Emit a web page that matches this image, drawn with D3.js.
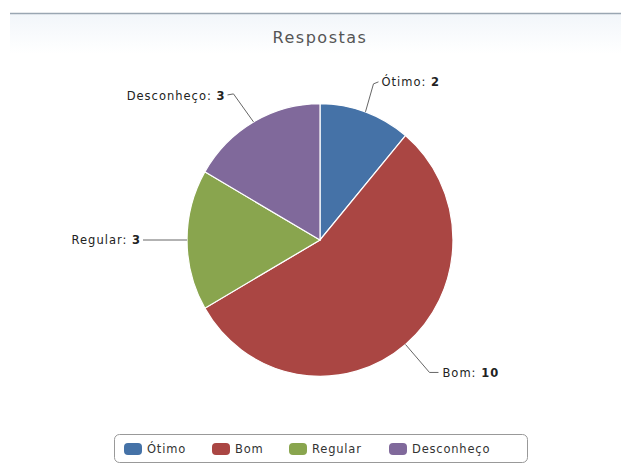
<!DOCTYPE html>
<html><head><meta charset="utf-8">
<script src="https://cdn.jsdelivr.net/npm/d3@7"></script>
<style>body{margin:0;background:#fff}svg{display:block;font-family:"DejaVu Sans",sans-serif}</style>
</head><body><svg id="c" width="621" height="475"></svg>
<script>
const categories = ["Ótimo", "Bom", "Regular", "Desconheço"];
const values = [2, 10, 3, 3];
const colors = ["#4572A7", "#AA4643", "#89A54E", "#80699B"];
const title = "Respostas";

const svg = d3.select("#c");
const cx = 320, cy = 240, r = 135;

const bg = svg.append("defs").append("linearGradient").attr("id","bg").attr("x1",0).attr("y1",0).attr("x2",0).attr("y2",1);
bg.append("stop").attr("offset","0").attr("stop-color","#f2f6fa");
bg.append("stop").attr("offset","1").attr("stop-color","#ffffff");
svg.append("rect").attr("x",10).attr("y",14).attr("width",611).attr("height",40).attr("fill","url(#bg)");
svg.append("line").attr("x1",10).attr("x2",621).attr("y1",13.5).attr("y2",13.5).attr("stroke","#9aa6b2").attr("stroke-width",1.5);

svg.append("text").attr("x",320).attr("y",43).attr("text-anchor","middle")
  .attr("font-size",16).attr("letter-spacing",1.5).attr("fill","#555").text(title);

const pie = d3.pie().sort(null).value(d => d)(values);
const arc = d3.arc().innerRadius(0).outerRadius(r);
const g = svg.append("g").attr("transform",`translate(${cx},${cy}) scale(0.985,1.01)`);
g.selectAll("path").data(pie).join("path")
  .attr("d", arc).attr("fill",(d,i)=>colors[i]).attr("stroke","#fff").attr("stroke-width",1.2);

const labelDefs = [
  {anchor:"start", pts:[[0,0],[8,-28],[13,-30]], tx:16, ty:-26},
  {anchor:"start", pts:[[0,0],[24,28],[33,28]], tx:37, ty:33},
  {anchor:"end", pts:[[0,0],[-44,0]], tx:-46, ty:4},
  {anchor:"end", pts:[[0,0],[-20,-28],[-26,-27]], tx:-28, ty:-22}
];
const lab = svg.append("g");
pie.forEach((d,i) => {
  const a = (d.startAngle + d.endAngle)/2;
  const ex = cx + Math.sin(a)*r*0.985, ey = cy - Math.cos(a)*r*1.01;
  const L = labelDefs[i];
  lab.append("polyline").attr("points", L.pts.map(p=>[ex+p[0],ey+p[1]].join(",")).join(" "))
    .attr("fill","none").attr("stroke","#666").attr("stroke-width",1);
  const t = lab.append("text").attr("x",ex+L.tx).attr("y",ey+L.ty).attr("text-anchor",L.anchor)
    .attr("font-size",11.5).attr("letter-spacing",1).attr("fill","#222");
  t.append("tspan").text(categories[i] + ":  ");
  t.append("tspan").attr("font-weight","bold").text(values[i]);
});

const leg = svg.append("g");
leg.append("rect").attr("x",114.5).attr("y",434.5).attr("width",413).attr("height",28).attr("rx",5)
  .attr("fill","#fff").attr("stroke","#999");
const legX = [124, 212, 289, 389];
categories.forEach((c,i) => {
  leg.append("rect").attr("x",legX[i]).attr("y",443).attr("width",18).attr("height",12).attr("rx",4)
    .attr("fill",colors[i]);
  leg.append("text").attr("x",legX[i]+23).attr("y",453).attr("font-size",11.5).attr("letter-spacing",0.8)
    .attr("fill","#333").text(c);
});
</script></body></html>
